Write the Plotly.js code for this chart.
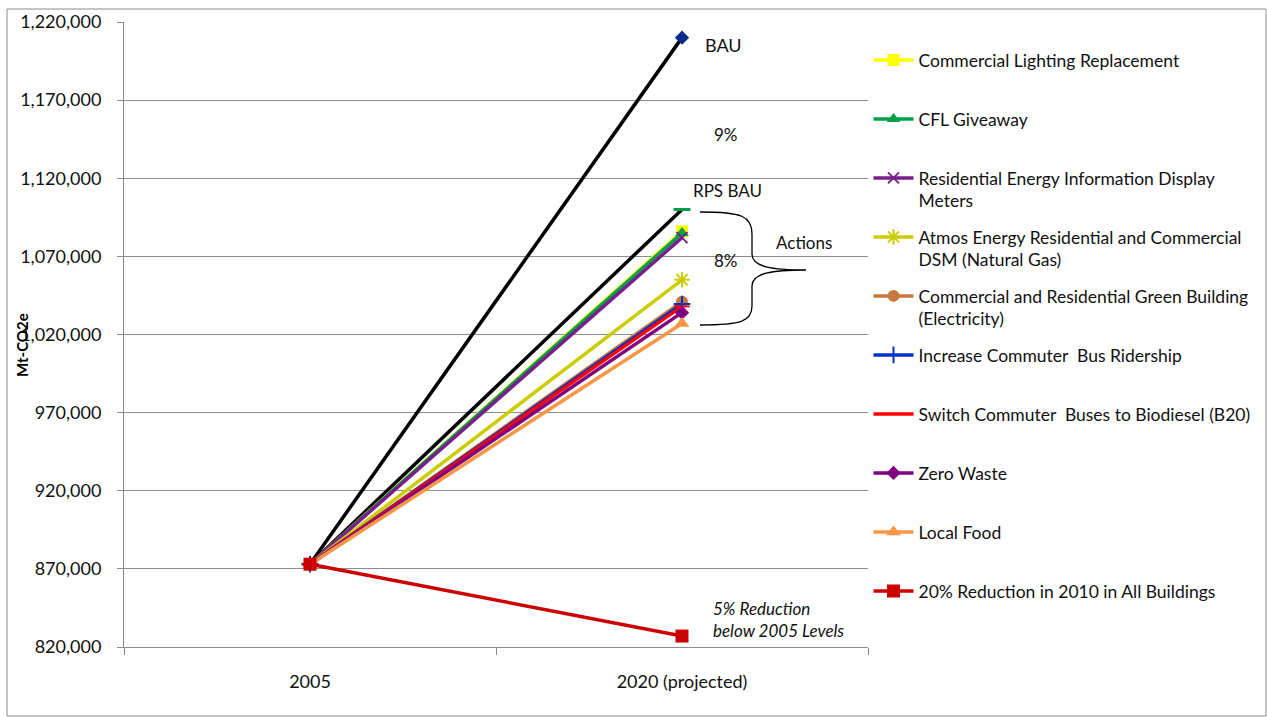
<!DOCTYPE html>
<html>
<head>
<meta charset="utf-8">
<script src="https://cdn.plot.ly/plotly-3.0.1.min.js"></script>
<style>body{margin:0;background:#fff;} #chart{width:1267px;height:717px;}</style>
</head>
<body>
<div id="chart"></div>
<script>
var categories = ["2005", "2020 (projected)"];
var baseYear = 873000;

var bauValues = [baseYear, 1210000];
var rpsBauValues = [baseYear, 1100000];

var seriesNames = [
  "Commercial Lighting Replacement",
  "CFL Giveaway",
  "Residential Energy Information Display<br>Meters",
  "Atmos Energy Residential and Commercial<br>DSM (Natural Gas)",
  "Commercial and Residential Green Building<br>(Electricity)",
  "Increase Commuter  Bus Ridership",
  "Switch Commuter  Buses to Biodiesel (B20)",
  "Zero Waste",
  "Local Food",
  "20% Reduction in 2010 in All Buildings"
];
var series2020 = [1086000, 1085000, 1082000, 1055000, 1041000, 1039500, 1038000, 1034000, 1027000, 827000];

var seriesColors = ["#FFFF00", "#00A04B", "#7A1E8C", "#CCCC00", "#C8783C", "#0033CC", "#FF0000", "#800080", "#F79646", "#CC0000"];
var seriesSymbols = ["square", "triangle-up", "x-thin-open", "asterisk-open", "circle", "cross-thin-open", "line-ew-open", "diamond", "triangle-up", "square"];
var seriesMarkerSizes = [12, 12, 11, 13, 12, 12, 11, 11, 13, 13];

var L = 124, R = 868, T = 22, B = 647;
function px(x){ return (x - L) / (R - L); }
function py(y){ return (B - y) / (B - T); }

var traces = [];
traces.push({
  x: categories, y: bauValues, type: "scatter", mode: "lines+markers",
  line: {color: "#000000", width: 3.5},
  marker: {symbol: "diamond", size: 11, color: "#0A2A8C"},
  showlegend: false, name: "BAU", hoverinfo: "x+y"
});
traces.push({
  x: categories, y: rpsBauValues, type: "scatter", mode: "lines+markers",
  line: {color: "#000000", width: 3.5},
  marker: {symbol: "line-ew-open", size: 12, color: "#00A04B", line: {color: "#00A04B", width: 3}},
  showlegend: false, name: "RPS BAU", hoverinfo: "x+y"
});

for (var i = 0; i < seriesNames.length; i++) {
  var sym = seriesSymbols[i];
  var open = sym.indexOf("open") >= 0;
  var nm = seriesNames[i];
  if (nm.indexOf("<br>") < 0) nm = nm + "<br> ";
  traces.push({
    x: categories,
    y: [baseYear, series2020[i]],
    type: "scatter", mode: "lines+markers",
    name: nm,
    legendgroup: "g" + i,
    line: {color: seriesColors[i], width: 3.5},
    marker: open
      ? {symbol: sym, size: seriesMarkerSizes[i], color: seriesColors[i], line: {color: seriesColors[i], width: 2}}
      : {symbol: sym, size: seriesMarkerSizes[i], color: seriesColors[i]},
    hoverinfo: "x+y"
  });
}

var bracePath = [
  "M", px(700), py(212),
  "C", px(742), py(212), px(752), py(216), px(752), py(234),
  "L", px(752), py(254),
  "C", px(752), py(267), px(772), py(270), px(806), py(270),
  "C", px(772), py(270), px(752), py(273), px(752), py(286),
  "L", px(752), py(306),
  "C", px(752), py(321), px(742), py(325), px(700), py(325)
].join(" ");

var font = "Lato, 'Noto Sans', sans-serif";

var layout = {
  width: 1267, height: 717,
  margin: {l: L, r: 1267 - R, t: T, b: 717 - B, pad: 0, autoexpand: false},
  paper_bgcolor: "#ffffff", plot_bgcolor: "#ffffff",
  font: {family: font, size: 15, color: "#111"},
  showlegend: true,
  legend: {
    x: px(868.5), xanchor: "left", y: py(42), yanchor: "top",
    font: {family: font, size: 17.5, color: "#111"},
    valign: "top", tracegroupgap: 10.5, itemwidth: 40,
    bgcolor: "rgba(0,0,0,0)"
  },
  xaxis: {
    type: "category", range: [-0.5, 1.5],
    showgrid: false, showline: true, linecolor: "#8c8c8c", linewidth: 1,
    ticks: "outside", tickson: "boundaries", ticklen: 7, tickcolor: "#8c8c8c",
    ticklabelstandoff: 18,
    tickfont: {family: font, size: 18, color: "#111"},
    zeroline: false, fixedrange: true
  },
  yaxis: {
    range: [820000, 1220000], dtick: 50000, tick0: 820000,
    tickformat: ",d",
    showgrid: true, gridcolor: "#8c8c8c", gridwidth: 1,
    showline: true, linecolor: "#8c8c8c", linewidth: 1,
    ticks: "outside", ticklen: 6, tickcolor: "#8c8c8c",
    ticklabelstandoff: 12,
    tickfont: {family: font, size: 18, color: "#111"},
    zeroline: false, fixedrange: true
  },
  shapes: [
    {type: "rect", xref: "paper", yref: "paper", x0: px(7), x1: px(1266), y0: py(716), y1: py(9),
     line: {color: "#8c8c8c", width: 1}, layer: "below"},
    {type: "path", xref: "paper", yref: "paper", path: bracePath, line: {color: "#000", width: 1.3}}
  ],
  annotations: [
    {xref: "paper", yref: "paper", x: px(22), y: py(345), text: "<b>Mt-CO2e</b>", textangle: -90, showarrow: false, xanchor: "center", yanchor: "middle", font: {size: 15, color: "#000"}},
    {xref: "paper", yref: "paper", x: px(703), y: py(45), text: "BAU", showarrow: false, xanchor: "left", yanchor: "middle", font: {size: 18}},
    {xref: "paper", yref: "paper", x: px(726), y: py(135), text: "9%", showarrow: false, xanchor: "center", yanchor: "middle", font: {size: 17}},
    {xref: "paper", yref: "paper", x: px(691), y: py(191), text: "RPS BAU", showarrow: false, xanchor: "left", yanchor: "middle", font: {size: 17}},
    {xref: "paper", yref: "paper", x: px(804), y: py(242), text: "Actions", showarrow: false, xanchor: "center", yanchor: "middle", font: {size: 17}},
    {xref: "paper", yref: "paper", x: px(726), y: py(260), text: "8%", showarrow: false, xanchor: "center", yanchor: "middle", font: {size: 17}},
    {xref: "paper", yref: "paper", x: px(711), y: py(619), text: "<i>5% Reduction<br>below 2005 Levels</i>", showarrow: false, xanchor: "left", yanchor: "middle", align: "left", font: {size: 17}}
  ]
};

Plotly.newPlot("chart", traces, layout, {displayModeBar: false});
</script>
</body>
</html>
